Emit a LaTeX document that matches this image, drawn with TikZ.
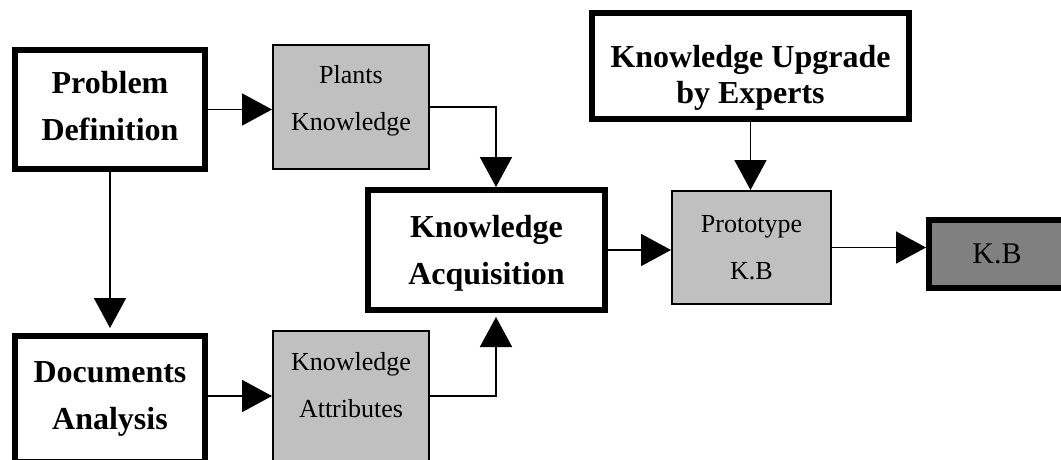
\documentclass[tikz,border=0pt]{standalone}
\usepackage{fontspec}
\setmainfont{Liberation Serif}
\usetikzlibrary{arrows.meta}
\definecolor{boxgrey}{RGB}{192,192,192}
\definecolor{kbgrey}{RGB}{128,128,128}
\newcommand\myhi[1]{\rule{0pt}{#1}}
\newcommand\mylo[1]{\rule[-#1]{0pt}{#1}}
\tikzset{
  mainbox/.style={draw, line width=6pt, fill=white, align=center, inner sep=0pt,
    font=\bfseries\fontsize{32}{47}\selectfont},
  greybox/.style={draw, line width=2pt, fill=boxgrey, align=center, inner sep=0pt,
    font=\fontsize{26}{47}\selectfont},
  kbbox/.style={draw, line width=6pt, fill=kbgrey, inner sep=0pt,
    font=\fontsize{30}{36}\selectfont},
  conn/.style={line width=1.8pt, -{Triangle[length=30pt,width=32pt]}},
}
\begin{document}
\begin{tikzpicture}[x=1pt, y=-1pt]
\useasboundingbox (0,0) rectangle (1061,459);
\clip (0,0) rectangle (1061,459);
\node[mainbox, minimum width=190pt, minimum height=119pt] (PD) at (110,109.5) {Problem\\Definition\mylo{8pt}};
\node[greybox, minimum width=156pt, minimum height=124pt] (PK) at (351,107) {Plants\\Knowledge\mylo{19pt}};
\node[mainbox, minimum width=190pt, minimum height=126pt] (DA) at (110,399) {Documents\\Analysis};
\node[greybox, minimum width=156pt, minimum height=130pt] (KAttr) at (351,396) {Knowledge\\Attributes\mylo{23pt}};
\node[mainbox, minimum width=237pt, minimum height=120pt] (KA) at (486.5,250) {\myhi{28pt}Knowledge\\Acquisition};
\node[mainbox, minimum width=317pt, minimum height=106pt, font=\bfseries\fontsize{32}{36}\selectfont] (UP) at (750.5,66) {\myhi{45pt}Knowledge Upgrade\\by Experts};
\node[greybox, minimum width=159pt, minimum height=113pt] (Proto) at (751.5,247.5) {Prototype\\K.B};
\node[kbbox, minimum width=136pt, minimum height=68pt] (KB) at (997,254) {K.B};
\draw[conn] (PD.east) -- (PD.east -| PK.west);
\draw[conn, shorten >=5pt] (PD.south) -- (DA.north);
\draw[conn] (KAttr.west -| DA.east) -- (KAttr.west);
\draw[conn] (PK.east) -| ([xshift=9.5pt]KA.north);
\draw[conn, shorten >=4pt] (KAttr.east) -| ([xshift=9.5pt]KA.south);
\draw[conn] (KA.east) -- (KA.east -| Proto.west);
\draw[conn] (UP.south) -- (UP.south |- Proto.north);
\draw[conn] (Proto.east) -- (Proto.east -| KB.west);
\end{tikzpicture}
\end{document}
